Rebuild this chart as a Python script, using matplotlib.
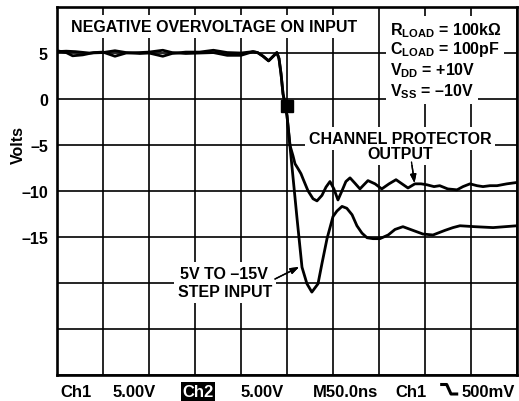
import matplotlib
matplotlib.use("Agg")
import matplotlib.pyplot as plt
from matplotlib.lines import Line2D
import numpy as np

plt.rcParams["font.family"] = ["Liberation Sans", "DejaVu Sans"]
plt.rcParams["font.weight"] = "bold"
plt.rcParams["mathtext.fontset"] = "custom"
plt.rcParams["mathtext.rm"] = "Liberation Sans:bold"
plt.rcParams["mathtext.bf"] = "Liberation Sans:bold"
plt.rcParams["mathtext.it"] = "Liberation Sans:bold"

# time in ns (50 ns/div), voltage in V (5 V/div)
protector_t = [0, 10, 17, 28, 40, 50, 63, 75, 90, 100, 115, 125, 140, 155, 170, 185, 200,
               213, 218, 224, 230, 235, 239, 241.3, 243.5, 245.7, 248, 250, 253.3, 256.5,
               258.7, 262, 265.2, 267.4, 272.8, 278.3, 282.6, 288, 292.4, 296.7, 301, 305.4,
               309.8, 314, 318.5, 324, 329.3, 333.6, 338, 345.7, 353, 360.9, 368.5, 375,
               381.5, 389, 395.7, 402, 409.8, 416, 424.7, 434.8, 441.3, 448.9, 456.5, 463,
               470.7, 478.3, 489, 500]
protector_v = [5.2, 5.0, 4.65, 4.75, 5.0, 5.05, 4.6, 4.95, 5.0, 5.05, 5.25, 5.0, 4.9, 4.95,
               5.0, 4.7, 4.7, 5.1, 5.0, 4.6, 4.1, 4.6, 5.0, 4.35, 2.7, 0.5, -0.6, -1.85,
               -5.1, -6.2, -7.07, -7.6, -8.15, -8.7, -10.0, -10.87, -11.1, -10.5, -9.6,
               -9.0, -9.8, -11.0, -10.0, -9.0, -8.6, -9.2, -9.8, -9.35, -8.9, -9.25, -9.8,
               -9.25, -8.8, -9.25, -9.7, -9.25, -9.25, -9.35, -9.55, -9.45, -9.8, -9.9,
               -9.55, -9.25, -9.45, -9.55, -9.45, -9.45, -9.25, -9.1]

step_t = [0, 10, 20, 35, 50, 63, 75, 90, 100, 115, 125, 140, 155, 170, 185, 200, 213, 218,
          224, 230, 235, 239, 241.3, 243.5, 245.7, 248, 250, 260.9, 266.3, 271.7, 277,
          283.7, 288, 293.5, 300, 304.3, 309.8, 315, 320.7, 326, 331.5, 337, 343.5, 351,
          360, 367.4, 376, 386.9, 397.8, 408.7, 421.7, 430.4, 438, 454, 474, 487, 500]
step_v = [5.1, 5.15, 5.1, 4.95, 5.0, 5.2, 5.0, 4.9, 4.95, 4.6, 4.9, 5.05, 5.05, 5.25, 5.0,
          4.95, 5.1, 5.0, 4.6, 4.1, 4.6, 5.0, 4.35, 2.7, 0.5, -0.6, -1.85, -13.0, -18.3,
          -20.1, -21.0, -20.1, -17.9, -15.2, -12.8, -12.2, -11.7, -11.9, -12.6, -13.8,
          -14.6, -15.1, -15.2, -15.2, -14.8, -14.2, -13.9, -14.3, -14.7, -14.8, -14.3,
          -14.0, -13.8, -13.9, -14.0, -13.9, -13.8]

trigger_t = [250]
trigger_v = [-0.8]

y_ticks = [-30, -25, -20, -15, -10, -5, 0, 5, 10]
y_labels = ["", "", "", "\u201315", "\u201310", "\u20135", "0", "5", ""]

W, H = 519, 402
FS = 11.5


def fx(x):
    return x / W


def fy(y):
    return 1 - y / H


def boxed_text(fig, x, y, s, **kw):
    # white knock-out behind the label, drawn under every label so boxes never hide text
    fig.text(fx(x), fy(y), s, color="white", zorder=2.9,
             bbox=dict(facecolor="white", edgecolor="none", pad=3), **kw)
    fig.text(fx(x), fy(y), s, color="black", zorder=3, **kw)


fig = plt.figure(figsize=(W / 100, H / 100), dpi=100)
ax = fig.add_axes([fx(57), fy(376), 460 / W, 368.5 / H])

ax.plot(protector_t, protector_v, color="black", lw=2.0, zorder=4, solid_joinstyle="round")
ax.plot(step_t, step_v, color="black", lw=2.0, zorder=4, solid_joinstyle="round")
ax.plot(trigger_t, trigger_v, marker="s", color="black", ms=8.5, zorder=5, ls="none")

ax.set_xlim(0, 500)
ax.set_ylim(-30, 10)
ax.set_xticks(np.arange(0, 501, 50))
ax.set_yticks(y_ticks)
ax.set_yticklabels(y_labels, fontsize=11.5, fontweight="bold")
ax.tick_params(length=0, labelbottom=False, pad=6.5)
ax.set_axisbelow(True)
ax.grid(True, color="black", lw=1.2)
for s in ax.spines.values():
    s.set_linewidth(1.9)

fig.text(fx(18), fy(145), "Volts", rotation=90, ha="center", va="center",
         fontsize=11.5, fontweight="bold")

boxed_text(fig, 214, 32, "NEGATIVE OVERVOLTAGE ON INPUT", ha="center", va="baseline",
           fontsize=FS)

legend_lines = [r"$\mathregular{R_{LOAD}}$ = 100k$\mathregular{\Omega}$",
                r"$\mathregular{C_{LOAD}}$ = 100pF",
                r"$\mathregular{V_{DD}}$ = +10V",
                r"$\mathregular{V_{SS}}$ = " + "\u201310V"]
for line, base in zip(legend_lines, [35, 54, 75, 96]):
    boxed_text(fig, 390, base, line, ha="left", va="baseline", fontsize=FS)

boxed_text(fig, 400, 144, "CHANNEL PROTECTOR", ha="center", va="baseline", fontsize=FS)
boxed_text(fig, 400, 159, "OUTPUT", ha="center", va="baseline", fontsize=FS)
boxed_text(fig, 224, 279, "5V TO \u201315V", ha="center", va="baseline", fontsize=FS)
boxed_text(fig, 225, 297, "STEP INPUT", ha="center", va="baseline", fontsize=FS)

arrow = dict(arrowstyle="-|>,head_length=0.5,head_width=0.18", color="black", lw=1.0,
             shrinkA=0, shrinkB=0)
fig.add_artist(plt.annotate("", xy=(fx(414.5), fy(184)), xytext=(fx(411.5), fy(163)),
                            xycoords="figure fraction", arrowprops=arrow))
fig.add_artist(plt.annotate("", xy=(fx(299), fy(268)), xytext=(fx(275), fy(280)),
                            xycoords="figure fraction", arrowprops=arrow))

# scope readout along the bottom
bottom = [(76, "Ch1"), (134, "5.00V"), (262, "5.00V"), (345, "M50.0ns"),
          (411, "Ch1"), (488, "500mV")]
for x, s in bottom:
    fig.text(fx(x), fy(397), s, ha="center", va="baseline", fontsize=12)
fig.text(fx(198), fy(397), "Ch2", ha="center", va="baseline", fontsize=12, color="white",
         bbox=dict(facecolor="black", edgecolor="none", pad=1.2))
fig.add_artist(Line2D([fx(441.7), fx(446.7), fx(451), fx(456.7)],
                      [fy(385.5), fy(385.5), fy(395), fy(395)],
                      transform=fig.transFigure, color="black", lw=2.2))

fig.savefig("out.png", dpi=100)
